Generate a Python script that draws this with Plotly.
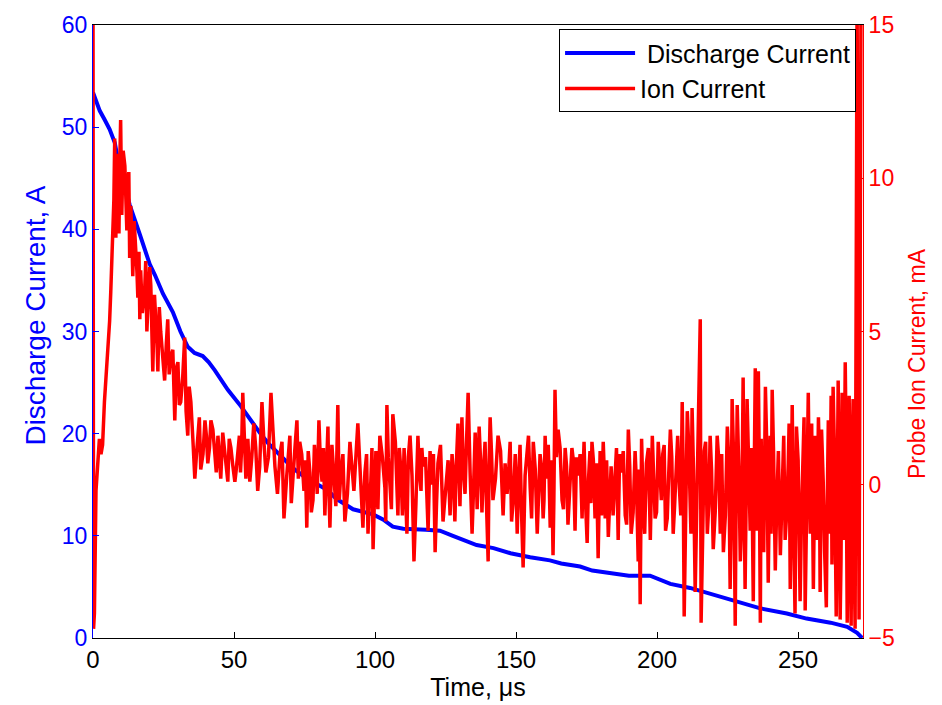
import plotly.graph_objects as go

# ---- Discharge current (left axis, A) ----
t_dis = [0, 0.6, 2.4, 4, 5.9, 7.7, 8.8, 10.6, 13, 16.6,
         20.1, 22, 24.8, 28.3, 31, 33.6, 36, 38.9, 41, 43.2,
         47.8, 52.4, 55.6, 59.1, 62, 66.3, 71, 75.8, 79.3, 83,
         86.4, 92.2, 99.3, 102.8, 106.3, 110, 118, 123, 127.6, 131,
         136, 142, 148, 155, 162, 166, 172.7, 177, 184, 190,
         197.5, 200, 204.7, 211.7, 217.8, 222.4, 229.5, 236.6, 246, 253,
         261.5, 267.4, 270.9, 272.7]
i_dis = [53.4, 53.0, 51.6, 50.8, 49.8, 48.5, 46.9, 45.0, 42.4, 39.5,
         36.6, 35.5, 33.7, 31.9, 30.0, 28.5, 27.9, 27.6, 27.0, 26.2,
         24.3, 22.7, 21.4, 20.1, 19.1, 17.9, 16.6, 15.6, 15.1, 14.5,
         13.6, 12.6, 12.1, 11.6, 10.9, 10.7, 10.6, 10.5, 10.0, 9.6,
         9.1, 8.8, 8.3, 7.9, 7.6, 7.3, 7.0, 6.6, 6.3, 6.1,
         6.1, 5.8, 5.3, 4.9, 4.4, 4.0, 3.4, 2.9, 2.4, 1.9,
         1.5, 1.1, 0.5, 0.0]

# ---- Probe ion current (right axis, mA): extreme readings ----
t_ion = [0, 0.2, 0.5, 1.06, 1.6, 2.27, 2.84, 3.4, 4.05, 4.5,
         5.2, 5.9, 6.3, 7.0, 7.7, 8.1, 8.8, 9.5, 9.8, 10.2,
         11.3, 11.6, 12.3, 13.0, 13.4, 14.1, 15.2, 15.9, 16.6, 16.9,
         18.3, 19.1, 20.1, 20.5, 21.2, 22.3, 23.0, 24.0, 25.4, 26.5,
         27.6, 29.0, 30.1, 31.1, 32.5, 33.6, 34.7, 36.1, 37.2, 38.2,
         39.7, 40.7, 41.8, 43.2, 44.3, 45.3, 46.7, 47.8, 48.9, 50.3,
         51.4, 52.3, 53.1, 54.2, 55.6, 57.0, 58.4, 59.9, 61.3, 63.1,
         64.5, 66.3, 67.7, 69.8, 70.9, 72.3, 73.3, 74.8, 75.8, 76.9,
         78.0, 79.0, 80.1, 81.2, 82.2, 83.3, 84.0, 85.4, 86.8, 87.9,
         89.3, 91.1, 92.5, 93.9, 95.7, 96.4, 97.5, 98.5, 99.3, 100.3,
         101.7, 103.5, 104.2, 105.3, 106.3, 108.1, 109.2, 110.3, 111.3, 112.4,
         113.8, 115.2, 116.3, 117.0, 118.8, 120.2, 121.3, 122.3, 124.1, 125.9,
         127.3, 128.3, 129.4, 130.8, 131.9, 133.0, 134.4, 135.5, 136.9, 137.9,
         139.0, 140.1, 140.8, 141.8, 143.6, 145.4, 146.8, 147.9, 149.0, 150.4,
         151.4, 152.5, 153.9, 155.0, 156.1, 157.5, 158.5, 159.6, 160.3, 161.4,
         162.1, 163.1, 163.8, 164.9, 166.3, 167.4, 168.4, 169.8, 170.9, 172.0,
         173.4, 174.1, 175.2, 176.2, 176.9, 178.0, 179.1, 179.8, 180.9, 181.6,
         182.7, 183.7, 185.1, 186.2, 187.3, 188.7, 189.8, 190.8, 192.2, 193.3,
         194.0, 195.1, 196.2, 197.6, 198.3, 199.3, 200.4, 201.5, 202.5, 203.6,
         204.7, 205.7, 206.8, 207.9, 208.9, 209.6, 210.7, 211.7, 212.4, 213.5,
         214.6, 215.3, 215.6, 216.7, 217.8, 218.8, 219.9, 221.3, 222.4, 223.5,
         224.9, 225.9, 226.6, 227.7, 228.4, 229.5, 230.5, 231.2, 231.9, 233.0,
         234.1, 234.8, 235.9, 236.6, 237.3, 238.4, 239.4, 240.1, 240.8, 241.9,
         243.0, 244.4, 245.4, 246.5, 247.2, 247.9, 248.9, 250.0, 250.7, 251.8,
         252.5, 253.6, 254.3, 255.4, 256.1, 257.2, 257.8, 258.9, 260.0, 260.7,
         261.7, 262.4, 263.5, 264.2, 264.9, 265.6, 266.7, 267.4, 268.1, 268.8,
         269.5, 270.2, 270.9, 271.6, 272.3]
i_ion = [16, -4.7, -4.2, -0.2, 0.8, 1.5, 1.0, 1.3, 2.7, 3.3,
         4.4, 5.35, 6.3, 8.06, 11.3, 8.06, 9.1, 10.5, 11.9, 8.8,
         10.4, 9.1, 9.9, 7.4, 9.1, 6.8, 7.8, 6.1, 5.4, 7.0,
         6.3, 5.0, 7.1, 6.5, 3.7, 5.4, 3.7, 5.0, 3.4, 5.4,
         4.2, 2.1, 4.0, 2.7, 4.8, 1.6, 2.7, 0.2, 1.7, 0.5,
         2.1, 0.7, 2.1, 1.0, 1.6, 0.2, 1.1, 0.1, 1.2, 0.1,
         1.1, 0.4, 3.0, 0.2, 0.1, 2.0, -0.2, 2.7, 0.4, 3.0,
         0.6, 1.0, -1.1, 1.6, 0.1, 2.1, 1.4, -0.2, -1.4, 0.4,
         -0.5, 0.7, 2.1, 0.1, -1.0, 1.9, -1.4, 0.4, 2.6, 0.4,
         -1.2, 1.4, -0.2, 2.0, -1.4, 0.4, -1.6, 0.1, -2.1, 1.1,
         1.6, -0.1, 2.6, 0.1, 2.3, -1.0, 0.4, 1.2, -1.6, 1.6,
         -2.5, 1.6, -0.2, 0.6, -1.5, 0.0, -2.2, 0.7, -1.2, 0.8,
         1.0, -1.2, 2.0, 2.2, -0.3, 3.0, -1.6, 1.7, 1.9, -0.9,
         1.4, -2.5, 2.2, -0.5, 1.6, -1.0, -0.3, 1.4, -0.5, -1.6,
         1.3, -2.7, 1.3, -0.1, 1.4, -1.6, 1.0, -1.1, 1.6, 1.3,
         -1.4, -2.3, 3.1, 1.8, -0.5, 1.2, -1.3, 1.2, -1.5, 0.3,
         -1.1, 1.4, -1.9, 1.1, 1.4, -1.1, -2.4, 1.1, 1.4, -1.1,
         -1.7, 0.6, 0.7, -1.8, 0.4, -1.0, 1.8, -1.6, 1.1, -2.5,
         -3.9, -0.8, 0.7, -1.8, 1.6, -1.1, 1.4, -0.5, 1.3, -1.1,
         1.8, -1.6, 0.8, -0.1, 2.7, -4.3, 2.4, -0.5, 2.5, -3.5,
         1.6, 5.4, -4.5, 1.1, -1.6, 1.6, -2.1, 1.6, -1.6, -2.2,
         1.9, -3.4, 2.8, -4.6, 2.6, -2.5, 3.5, -3.4, 2.8, -1.5,
         -3.8, 3.8, 3.7, -4.5, -1.1, 3.2, -3.2, 1.6, 3.1, -2.8,
         1.1, 0.5, -1.8, 0.7, -3.4, 2.6, -4.2, 0.8, -3.8, 1.4,
         -4.1, 3.0, -1.6, -3.4, 1.6, 2.2, -3.5, 0.1, -4.0, 2.1,
         2.9, 3.2, -4.3, 3.4, -4.4, 3.0, 4.0, -4.5, 2.9, -4.6,
         2.8, -4.7, 16, -4.4, 16]

# ---- Probe ion current: in-band readings between the extremes ----
t_ion_mid = [7.4, 8.5, 9.2, 10.7, 12.0, 12.7, 13.8, 14.6, 15.6, 16.3,
             17.5, 18.7, 19.6, 20.8, 21.8, 22.7, 23.5, 24.7, 26.0, 27.0,
             28.3, 29.5, 30.6, 31.8, 33.0, 34.1, 35.4, 36.7, 37.7, 39.0,
             40.2, 41.3, 42.5, 43.7, 44.8, 46.0, 47.2, 48.3, 49.6, 50.8,
             51.9, 52.7, 53.6, 54.9, 56.3, 57.7, 59.1, 60.6, 62.2, 63.8,
             65.4, 67.0, 68.7, 70.3, 71.6, 72.8, 74.0, 75.3, 76.3, 77.4,
             78.5, 79.5, 80.6, 81.7, 82.7, 83.6, 84.7, 86.1, 87.3, 88.6,
             90.2, 91.8, 93.2, 94.8, 96.0, 97.0, 98.0, 98.9, 99.8, 101.0,
             102.6, 103.8, 104.7, 105.8, 107.2, 108.6, 109.7, 110.8, 111.8, 113.1,
             114.5, 115.7, 116.6, 117.9, 119.5, 120.7, 121.8, 123.2, 125.0, 126.6,
             127.8, 128.8, 130.1, 131.3, 132.4, 133.7, 134.9, 136.2, 137.4, 138.4,
             139.5, 140.4, 141.3, 142.7, 144.5, 146.1, 147.3, 148.4, 149.7, 150.9,
             151.9, 153.2, 154.4, 155.5, 156.8, 158.0, 159.0, 159.9, 160.8, 161.7,
             162.6, 163.4, 164.3, 165.6, 166.8, 167.9, 169.1, 170.3, 171.4, 172.7,
             173.7, 174.6, 175.7, 176.5, 177.4, 178.5, 179.4, 180.3, 181.2, 182.1,
             183.2, 184.4, 185.6, 186.7, 188.0, 189.2, 190.3, 191.5, 192.7, 193.6,
             194.5, 195.6, 196.9, 197.9, 198.8, 199.8, 200.9, 202.0, 203.0, 204.1,
             205.2, 206.2, 207.3, 208.4, 209.2, 210.1, 211.2, 212.0, 212.9, 214.0,
             216.1, 217.2, 218.3, 219.3, 220.6, 221.8, 222.9, 224.2, 225.4, 226.2,
             227.1, 228.0, 229.0, 230.0, 230.8, 231.5, 232.4, 233.5, 234.4, 235.3,
             236.2, 236.9, 237.8, 238.9, 239.7, 240.4, 241.3, 242.4, 243.7, 244.9,
             245.9, 246.8, 247.5, 248.4, 249.4, 250.3, 251.2, 252.1, 253.0, 253.9,
             254.8, 255.7, 256.6, 257.5, 258.3, 259.4, 260.3, 261.2, 262.0, 262.9,
             263.8, 264.5, 265.2, 266.2, 267.0, 267.7, 268.4, 269.1, 269.8]
i_ion_mid = [9.3, 10.8, 8.2, 10.9, 8.3, 10.2, 8.0, 8.6, 6.9, 7.6,
             5.6, 7.3, 6.1, 5.2, 6.2, 4.6, 5.8, 4.3, 4.6, 3.6,
             4.4, 3.8, 2.6, 3.5, 2.4, 3.2, 1.5, 1.0, 2.2, 1.0,
             1.6, 1.2, 1.8, 0.4, 1.0, 1.7, 0.6, 1.5, 0.6, 0.5,
             1.6, 1.2, 1.4, 1.5, 0.9, 1.2, 0.6, 1.4, 0.9, 1.8,
             -0.3, 1.4, 0.3, -0.6, 1.2, 0.2, 1.0, 0.8, 1.1, -0.9,
             1.3, -0.3, 0.8, 1.2, 0.6, 0.0, 1.3, -0.7, -0.5, 1.0,
             -0.3, 0.6, 0.9, 0.3, -0.6, 1.0, -0.5, 1.2, -0.4, -0.8,
             0.9, -1.2, 0.9, -0.8, 1.4, 1.2, -1.0, 0.1, 0.9, 0.3,
             -0.6, 0.4, 1.2, 0.9, 1.1, 1.0, -0.6, 1.3, -0.2, -1.0,
             0.3, 0.6, -0.7, 0.5, 1.3, 0.4, -0.2, -0.8, 0.8, 0.4,
             -0.6, 0.5, 1.0, 0.2, 1.1, 0.7, 0.3, -1.2, 1.0, 0.2,
             -0.8, 0.3, 1.6, -1.1, 0.5, -0.5, 0.6, -0.5, 0.2, 0.3,
             0.8, -0.5, 0.9, 1.2, -0.8, 0.6, 0.0, 0.8, 0.9, 1.0,
             0.2, -0.5, 0.2, -0.6, 0.8, 0.7, -0.8, -1.0, 0.6, 0.8,
             -0.5, -1.0, 1.2, 1.0, 1.1, -1.3, 0.6, -0.9, 0.0, 0.5,
             1.5, -1.6, 1.2, -0.4, 0.2, -0.9, 0.6, 1.0, -1.5, 0.3,
             0.9, -0.7, 1.6, -1.0, 0.8, -1.8, 1.3, -1.6, 0.5, -0.8,
             -1.0, 1.4, -0.7, 0.5, -0.9, 0.9, 1.0, -1.0, 0.8, -1.5,
             1.0, -0.6, 0.4, -1.2, 0.0, -1.0, 0.9, 1.2, 0.0, -1.5,
             0.8, 1.5, -2.2, 1.2, -0.9, -1.6, 1.0, -0.7, -2.3, 1.6,
             -1.0, 2.0, 0.3, -1.5, 1.9, -1.2, -1.0, 2.2, -1.5, 0.6,
             2.0, -1.0, -1.8, 1.0, 1.8, -2.2, -0.8, -1.6, -2.6, 1.0,
             -1.0, 0.5, -2.5, -1.8, 1.5, 0.5, -2.0, 1.0, -1.8]

x_ticks = [0, 50, 100, 150, 200, 250]
y_left_ticks = [0, 10, 20, 30, 40, 50, 60]
y_right_ticks = [-5, 0, 5, 10, 15]

# merge the two sets of ion-current readings in time order
ion_pts = sorted(zip(t_ion + t_ion_mid, i_ion + i_ion_mid))
t_ion_all = [p[0] for p in ion_pts]
i_ion_all = [p[1] for p in ion_pts]

BLUE = "#0000FF"
RED = "#FF0000"
FONT = "Liberation Sans, Arial, sans-serif"

fig = go.Figure()
fig.add_trace(go.Scatter(x=t_dis, y=i_dis, mode="lines", name=" Discharge Current",
                         line=dict(color=BLUE, width=4), yaxis="y"))
fig.add_trace(go.Scatter(x=t_ion_all, y=i_ion_all, mode="lines", name="Ion Current",
                         line=dict(color=RED, width=3.5), yaxis="y2"))

fig.update_layout(
    width=942, height=705,
    margin=dict(l=93, r=79, t=18, b=67),
    paper_bgcolor="white", plot_bgcolor="white",
    font=dict(family=FONT, size=23, color="black"),
    showlegend=True,
    legend=dict(x=0.991, y=0.993, xanchor="right", yanchor="top",
                bgcolor="white", bordercolor="black", borderwidth=1,
                font=dict(family=FONT, size=25, color="black"),
                itemwidth=70, tracegroupgap=0, traceorder="normal"),
    xaxis=dict(range=[0, 273], tickvals=x_ticks, ticks="inside", ticklen=6,
               tickcolor="black", showline=True, linecolor="black", linewidth=1,
               mirror=True, showgrid=False, zeroline=False,
               title=dict(text="Time, μs", font=dict(size=25), standoff=2),
               tickfont=dict(size=24, color="black")),
    yaxis=dict(range=[0, 60], tickvals=y_left_ticks, ticks="inside", ticklen=6,
               tickcolor=BLUE, showline=True, linecolor=BLUE, linewidth=1,
               showgrid=False, zeroline=False,
               tickfont=dict(size=23, color=BLUE)),
    yaxis2=dict(range=[-5, 15], tickvals=y_right_ticks, ticks="inside", ticklen=6,
                tickcolor=RED, showline=True, linecolor=RED, linewidth=1,
                overlaying="y", side="right", anchor="x",
                showgrid=False, zeroline=False,
                tickfont=dict(size=23, color=RED)),
    annotations=[
        dict(text="Discharge Current, A", xref="paper", yref="paper",
             x=-0.074, y=0.526, xanchor="center", yanchor="middle",
             textangle=-90, showarrow=False,
             font=dict(family=FONT, size=28, color=BLUE)),
        dict(text="Probe Ion Current, mA", xref="paper", yref="paper",
             x=1.071, y=0.448, xanchor="center", yanchor="middle",
             textangle=-90, showarrow=False,
             font=dict(family=FONT, size=23, color=RED)),
    ],
)

fig.write_html("out.html")
